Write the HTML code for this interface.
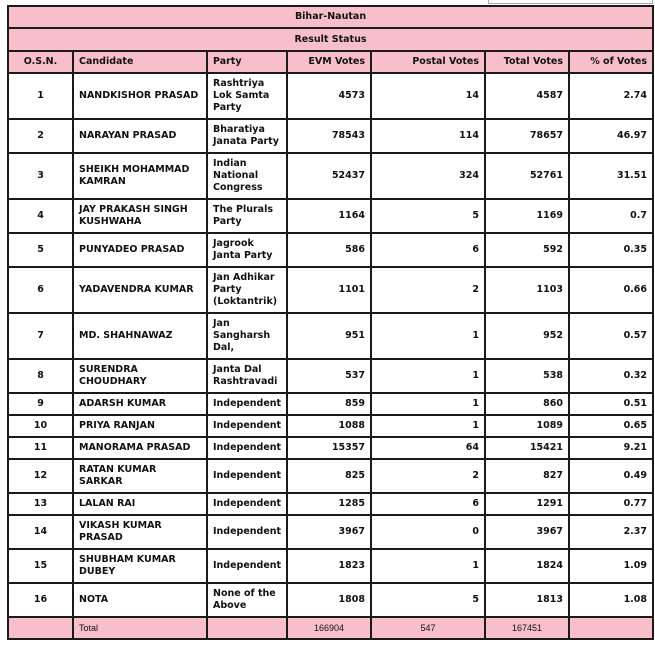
<!DOCTYPE html>
<html><head><meta charset="utf-8"><style>
body{margin:0;background:#fff;width:655px;height:647px;position:relative;overflow:hidden}
.box{position:absolute;left:488px;top:-2px;width:163px;height:4px;border:1px solid #aaa}
table{position:absolute;left:7px;top:5px;border-collapse:collapse;table-layout:fixed;width:645px;font-family:"DejaVu Sans","Liberation Sans",sans-serif;font-size:9.5px;font-weight:bold;color:#111}
td{border:2px solid #1a1a1a;padding:0 5px;line-height:12px;overflow:hidden;white-space:nowrap}
.p{background:#f8bfca}
.c{text-align:center}.r{text-align:right}
.w{white-space:normal}
.t td{font-weight:normal;font-size:9px;font-family:"Liberation Sans",sans-serif}
</style></head><body>
<div class="box"></div>
<table>
<colgroup><col style="width:65px"><col style="width:134px"><col style="width:80px"><col style="width:84px"><col style="width:114px"><col style="width:84px"><col style="width:84px"></colgroup>
<tr class="p" style="height:22px"><td colspan="7" class="c">Bihar-Nautan</td></tr>
<tr class="p" style="height:23px"><td colspan="7" class="c">Result Status</td></tr>
<tr class="p" style="height:22px"><td class="c">O.S.N.</td><td>Candidate</td><td>Party</td><td class="r">EVM Votes</td><td class="r">Postal Votes</td><td class="r">Total Votes</td><td class="r">% of Votes</td></tr>
<tr style="height:46px"><td class="c">1</td><td>NANDKISHOR PRASAD</td><td class="w">Rashtriya Lok Samta Party</td><td class="r">4573</td><td class="r">14</td><td class="r">4587</td><td class="r">2.74</td></tr>
<tr style="height:34px"><td class="c">2</td><td>NARAYAN PRASAD</td><td class="w">Bharatiya Janata Party</td><td class="r">78543</td><td class="r">114</td><td class="r">78657</td><td class="r">46.97</td></tr>
<tr style="height:46px"><td class="c">3</td><td class="w">SHEIKH MOHAMMAD KAMRAN</td><td class="w">Indian National Congress</td><td class="r">52437</td><td class="r">324</td><td class="r">52761</td><td class="r">31.51</td></tr>
<tr style="height:34px"><td class="c">4</td><td class="w">JAY PRAKASH SINGH KUSHWAHA</td><td class="w">The Plurals Party</td><td class="r">1164</td><td class="r">5</td><td class="r">1169</td><td class="r">0.7</td></tr>
<tr style="height:34px"><td class="c">5</td><td>PUNYADEO PRASAD</td><td class="w">Jagrook Janta Party</td><td class="r">586</td><td class="r">6</td><td class="r">592</td><td class="r">0.35</td></tr>
<tr style="height:46px"><td class="c">6</td><td>YADAVENDRA KUMAR</td><td class="w">Jan Adhikar Party (Loktantrik)</td><td class="r">1101</td><td class="r">2</td><td class="r">1103</td><td class="r">0.66</td></tr>
<tr style="height:46px"><td class="c">7</td><td>MD. SHAHNAWAZ</td><td class="w">Jan Sangharsh Dal,</td><td class="r">951</td><td class="r">1</td><td class="r">952</td><td class="r">0.57</td></tr>
<tr style="height:34px"><td class="c">8</td><td class="w">SURENDRA CHOUDHARY</td><td class="w">Janta Dal Rashtravadi</td><td class="r">537</td><td class="r">1</td><td class="r">538</td><td class="r">0.32</td></tr>
<tr style="height:22px"><td class="c">9</td><td>ADARSH KUMAR</td><td>Independent</td><td class="r">859</td><td class="r">1</td><td class="r">860</td><td class="r">0.51</td></tr>
<tr style="height:22px"><td class="c">10</td><td>PRIYA RANJAN</td><td>Independent</td><td class="r">1088</td><td class="r">1</td><td class="r">1089</td><td class="r">0.65</td></tr>
<tr style="height:22px"><td class="c">11</td><td>MANORAMA PRASAD</td><td>Independent</td><td class="r">15357</td><td class="r">64</td><td class="r">15421</td><td class="r">9.21</td></tr>
<tr style="height:34px"><td class="c">12</td><td class="w">RATAN KUMAR SARKAR</td><td>Independent</td><td class="r">825</td><td class="r">2</td><td class="r">827</td><td class="r">0.49</td></tr>
<tr style="height:22px"><td class="c">13</td><td>LALAN RAI</td><td>Independent</td><td class="r">1285</td><td class="r">6</td><td class="r">1291</td><td class="r">0.77</td></tr>
<tr style="height:34px"><td class="c">14</td><td class="w">VIKASH KUMAR PRASAD</td><td>Independent</td><td class="r">3967</td><td class="r">0</td><td class="r">3967</td><td class="r">2.37</td></tr>
<tr style="height:34px"><td class="c">15</td><td class="w">SHUBHAM KUMAR DUBEY</td><td>Independent</td><td class="r">1823</td><td class="r">1</td><td class="r">1824</td><td class="r">1.09</td></tr>
<tr style="height:34px"><td class="c">16</td><td>NOTA</td><td class="w">None of the Above</td><td class="r">1808</td><td class="r">5</td><td class="r">1813</td><td class="r">1.08</td></tr>
<tr class="p t" style="height:22px"><td></td><td>Total</td><td></td><td class="c">166904</td><td class="c">547</td><td class="c">167451</td><td></td></tr>
</table>
</body></html>
